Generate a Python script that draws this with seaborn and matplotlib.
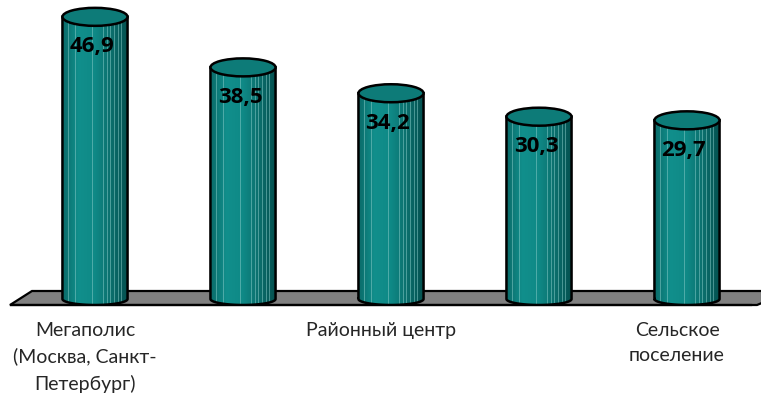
import numpy as np
import pandas as pd
import matplotlib
matplotlib.use("Agg")
import matplotlib.pyplot as plt
import seaborn as sns
from matplotlib.patches import Ellipse, Polygon, PathPatch
from matplotlib.path import Path
from matplotlib.colors import LinearSegmentedColormap

# --- data ---------------------------------------------------------------
tick_labels = ["Мегаполис\n(Москва, Санкт-\nПетербург)", "", "Районный центр", "", "Сельское\nпоселение"]
values = [46.9, 38.5, 34.2, 30.3, 29.7]
value_labels = [f"{v:.1f}".replace(".", ",") for v in values]

df = pd.DataFrame({"pos": np.arange(len(values)), "value": values})

# --- figure -------------------------------------------------------------
sns.set_style("white")
plt.rcParams["font.family"] = ["Lato", "Open Sans", "DejaVu Sans"]

W, H = 761, 396
fig = plt.figure(figsize=(W / 100, H / 100), dpi=100)
ax = fig.add_axes([11 / W, 91 / H, 740 / W, 305 / H])

teal = "#0f8481"
sns.barplot(data=df, x="pos", y="value", width=0.44, color=teal,
            ax=ax, zorder=3, saturation=1)

ylo, yhi = -1.0, 49.7
xlo, xhi = -0.5, 4.5
px_x = 740 / (xhi - xlo)          # pixels per category
px_y = 305 / (yhi - ylo)          # pixels per value unit

depth_dx = 10 / px_x              # cylinders sit back on the floor
top_h = 18 / px_y                 # height of the cap ellipse
bot_h = 12 / px_y                 # height of the base ellipse

body_cmap = LinearSegmentedColormap.from_list(
    "cyl", ["#0a6a68", "#118f8c", "#0f8986", "#0b6e6c", "#04504f"], N=256)
grad = np.linspace(0, 1, 256).reshape(1, -1)
stripe_rel = [0.09, 0.20, 0.45, 0.62, 0.68, 0.73, 0.79, 0.85, 0.90]

for bar, lab in zip(ax.patches, value_labels):
    bar.set_x(bar.get_x() + depth_dx)
    x0, w, h = bar.get_x(), bar.get_width(), bar.get_height()
    cx, a = x0 + w / 2, w / 2
    bar.set_edgecolor("none")

    # outline of the cylinder body: sides plus the lower half of the base
    t = np.linspace(np.pi, 2 * np.pi, 60)
    verts = [(x0, h), (x0, 0)] + list(zip(cx + a * np.cos(t), (bot_h / 2) * np.sin(t))) + [(x0 + w, h), (x0, h)]
    codes = [Path.MOVETO] + [Path.LINETO] * (len(verts) - 2) + [Path.CLOSEPOLY]
    body = PathPatch(Path(verts, codes), facecolor="none", edgecolor="black",
                     lw=1.8, zorder=3.4, transform=ax.transData)
    ax.add_patch(body)

    img = ax.imshow(grad, extent=[x0, x0 + w, -bot_h, h], aspect="auto",
                    cmap=body_cmap, zorder=3.1, interpolation="bilinear")
    img.set_clip_path(body)

    for r in stripe_rel:
        ln, = ax.plot([x0 + r * w] * 2, [-bot_h, h], color="#8fd0cd",
                      lw=0.7, alpha=0.5, zorder=3.2)
        ln.set_clip_path(body)

    cap = Ellipse((cx, h), w, top_h, angle=0, facecolor="#0d7b78",
                  edgecolor="black", lw=1.8, zorder=3.5)
    ax.add_patch(cap)

    ax.text(cx - 3 / px_x, h - 30 / px_y, lab, ha="center", va="center",
            fontsize=16, fontweight="bold", family=["Open Sans", "DejaVu Sans"],
            color="black", zorder=4)

# grey floor under the bars
floor = Polygon([(xlo - 1 / px_x, ylo), (xlo + 21 / px_x, ylo + 14 / px_y),
                 (xhi + 40 / px_x, ylo + 14 / px_y), (xhi + 6 / px_x, ylo)],
                closed=True, facecolor="#808080", edgecolor="black", lw=1.6,
                zorder=1, clip_on=False)
ax.add_patch(floor)

ax.set_xlim(xlo, xhi)
ax.set_ylim(ylo, yhi)

# axis: boundary ticks, centred category labels
for s in ["left", "right", "top"]:
    ax.spines[s].set_visible(False)
ax.spines["bottom"].set_color("black")
ax.spines["bottom"].set_linewidth(1.6)
ax.spines["bottom"].set_zorder(2)
ax.set_yticks([])
ax.set_xticks(np.arange(xlo, xhi + 0.01, 1.0))
ax.set_xticklabels([])
ax.tick_params(axis="x", which="major", length=6, width=1.4, color="black", direction="out")
ax.set_xticks(np.arange(len(values)), minor=True)
ax.set_xticklabels(tick_labels, minor=True, fontsize=14, linespacing=1.6)
ax.tick_params(axis="x", which="minor", length=0, pad=12)
ax.set_xlabel("")
ax.set_ylabel("")
ax.patch.set_alpha(0)

fig.savefig("out.png", dpi=100)
